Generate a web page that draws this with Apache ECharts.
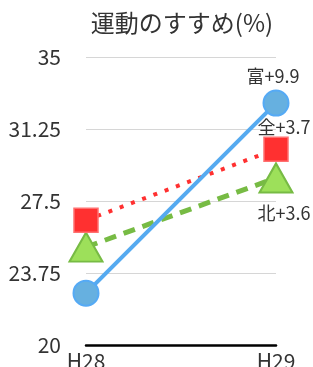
<!DOCTYPE html>
<html>
<head>
<meta charset="utf-8">
<script src="https://cdn.jsdelivr.net/npm/echarts@6/dist/echarts.min.js"></script>
<style>
  html, body { margin: 0; padding: 0; background: #fff; }
  #chart { width: 313px; height: 367px; }
</style>
</head>
<body>
<div id="chart"></div>
<script>
// データ
const years = ['H28', 'H29']
const toyama = [22.7, 32.6]   // 富
const zenkoku = [26.5, 30.2]  // 全
const hokuriku = [25.1, 28.7] // 北
const diffLabels = ['富+9.9', '全+3.7', '北+3.6']

const font = '"Noto Sans CJK JP", sans-serif'

// 最後の点だけラベルを出す
const lastLabel = (text, pos, dist, offset) => ({
  show: true,
  position: pos,
  distance: dist,
  offset: offset,
  fontSize: 18,
  fontFamily: font,
  color: '#333',
  formatter: (p) => p.dataIndex === years.length - 1 ? text : ''
})

const chart = echarts.init(document.getElementById('chart'))

const option = {
  animation: false,
  title: {
    text: '運動のすすめ(%)',
    left: 177,
    textAlign: 'center',
    top: 6,
    textStyle: { fontSize: 24, fontWeight: 'normal', color: '#333', fontFamily: font }
  },
  grid: { left: 86, right: 37, top: 57, bottom: 22, outerBoundsMode: 'none', containLabel: false },
  xAxis: {
    type: 'category',
    data: years,
    boundaryGap: false,
    axisLine: { lineStyle: { color: '#000', width: 2.5 } },
    axisTick: { show: false },
    axisLabel: { fontSize: 21, color: '#333', fontFamily: font, margin: 6 }
  },
  yAxis: {
    type: 'value',
    min: 20,
    max: 35,
    interval: 3.75,
    axisLine: { show: false },
    axisTick: { show: false },
    splitLine: { lineStyle: { color: '#d6d6d6', width: 1 } },
    axisLabel: { fontSize: 21, color: '#333', fontFamily: font, margin: 25 }
  },
  series: [
    {
      name: '全',
      type: 'line',
      data: zenkoku,
      symbol: 'rect',
      symbolSize: 24,
      itemStyle: { color: '#ff3030', borderColor: '#ff7070', borderWidth: 1.5 },
      lineStyle: { color: '#ff3030', width: 4, type: [4, 8] },
      label: lastLabel(diffLabels[1], 'top', 0, [8, 0]),
      z: 3
    },
    {
      name: '北',
      type: 'line',
      data: hokuriku,
      symbol: 'triangle',
      symbolSize: [33, 29],
      itemStyle: { color: '#9de05a', borderColor: '#77bb44', borderWidth: 2 },
      lineStyle: { color: '#77bb44', width: 5, type: [12, 8] },
      label: lastLabel(diffLabels[2], 'bottom', 11, [8, 0]),
      z: 2
    },
    {
      name: '富',
      type: 'line',
      data: toyama,
      symbol: 'circle',
      symbolSize: 25,
      itemStyle: { color: '#66b0e0', borderColor: '#55aaf5', borderWidth: 2 },
      lineStyle: { color: '#55aaf0', width: 4 },
      label: lastLabel(diffLabels[0], 'top', 4, [-3, 0]),
      z: 4
    }
  ]
}

chart.setOption(option)
</script>
</body>
</html>
